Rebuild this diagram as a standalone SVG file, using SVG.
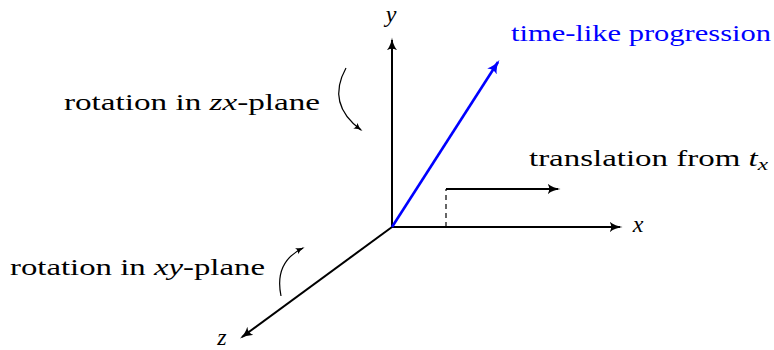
<svg xmlns="http://www.w3.org/2000/svg" width="774" height="350" viewBox="0 0 774 350">
<defs>
<style>
text{font-family:"Liberation Serif","DejaVu Serif",serif;font-size:24px;fill:#000}
.it{font-style:italic}
.ax{stroke:#000;stroke-width:2;fill:none}
.thin{stroke:#000;stroke-width:1.2;fill:none}
</style>
<marker id="ah" viewBox="0 0 10 10" refX="8" refY="5" markerWidth="13" markerHeight="13" markerUnits="userSpaceOnUse" orient="auto">
<path d="M0,1 Q4,4.2 10,5 Q4,5.8 0,9 Q2.5,5 0,1Z" fill="#000"/>
</marker>
<marker id="ahb" viewBox="0 0 10 10" refX="8" refY="5" markerWidth="14" markerHeight="14" markerUnits="userSpaceOnUse" orient="auto">
<path d="M0,1 Q4,4.2 10,5 Q4,5.8 0,9 Q2.5,5 0,1Z" fill="#0000ff"/>
</marker>
<marker id="ahs" viewBox="0 0 10 10" refX="8" refY="5" markerWidth="9" markerHeight="9" markerUnits="userSpaceOnUse" orient="auto">
<path d="M0,1 Q4,4.2 10,5 Q4,5.8 0,9 Q2.5,5 0,1Z" fill="#000"/>
</marker>
</defs>
<g id="connectors">
<line class="ax" x1="392" y1="227" x2="392" y2="40" marker-end="url(#ah)"/>
<line class="ax" x1="392" y1="227" x2="620" y2="227" marker-end="url(#ah)"/>
<line class="ax" x1="392" y1="227" x2="242" y2="337" marker-end="url(#ah)"/>
<line x1="392" y1="227" x2="340" y2="265" stroke="#000" stroke-width="1" stroke-dasharray="4,3"/>
<line x1="392" y1="227" x2="498" y2="62" stroke="#0000ff" stroke-width="2.6" marker-end="url(#ahb)"/>
<path d="M446,227 V189" stroke="#000" stroke-width="1.2" stroke-dasharray="5,4" fill="none"/>
<path class="ax" d="M446,189 H558" marker-end="url(#ah)"/>
<path class="thin" d="M346,68 Q326,104 361,130" marker-end="url(#ahs)"/>
<path class="thin" d="M281,296 Q274,262 303,248" marker-end="url(#ahs)"/>
</g>
<g id="label-y"><text class="it" x="391" y="22" text-anchor="middle">y</text></g>
<g id="label-x"><text class="it" x="638" y="232" text-anchor="middle">x</text></g>
<g id="label-z"><text class="it" x="222" y="345" text-anchor="middle">z</text></g>
<g id="time-like"><text x="511" y="41" style="fill:#0000ff" textLength="260" lengthAdjust="spacingAndGlyphs">time-like progression</text></g>
<g id="translation"><text x="529" y="166" textLength="239" lengthAdjust="spacingAndGlyphs">translation from <tspan class="it">t</tspan><tspan class="it" font-size="17" dy="4">x</tspan></text></g>
<g id="rot-zx"><text x="64" y="110" textLength="256" lengthAdjust="spacingAndGlyphs">rotation in <tspan class="it">zx</tspan>-plane</text></g>
<g id="rot-xy"><text x="10" y="275" textLength="255" lengthAdjust="spacingAndGlyphs">rotation in <tspan class="it">xy</tspan>-plane</text></g>
</svg>
